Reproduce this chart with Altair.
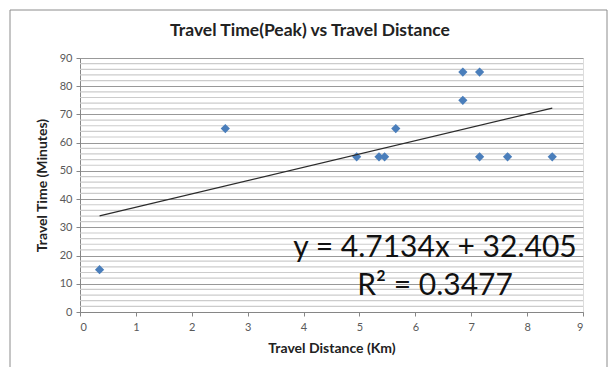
import altair as alt
import pandas as pd

# Observed trips: distance (km) and peak-hour travel time (minutes)
distance_km = [0.35, 2.6, 4.95, 5.35, 5.45, 5.65, 6.85, 6.85, 7.15, 7.15, 7.65, 8.45]
time_min = [15, 65, 55, 55, 55, 65, 85, 75, 85, 55, 55, 55]

# Linear trendline coefficients and fit quality
slope = 4.7134
intercept = 32.405
r_squared = 0.3477

x_ticks = [0, 1, 2, 3, 4, 5, 6, 7, 8, 9]
y_major = [0, 10, 20, 30, 40, 50, 60, 70, 80, 90]
y_minor = [v for v in range(2, 90, 2) if v % 10 != 0]

FONT = "Lato"
points = pd.DataFrame({"x": distance_km, "y": time_min})
x_lo, x_hi = min(distance_km), max(distance_km)
trend = pd.DataFrame({"x": [x_lo, x_hi],
                      "y": [slope * x_lo + intercept, slope * x_hi + intercept]})

x_scale = alt.Scale(domain=[0, 9], nice=False, zero=False)
y_scale = alt.Scale(domain=[0, 90], nice=False)

x_axis = alt.Axis(
    values=x_ticks, format="d", grid=False, title="Travel Distance (Km)",
    titleFont=FONT, titleFontSize=14, titleFontWeight="bold",
    titleColor="#222222", titlePadding=9,
    labelFont=FONT, labelFontSize=11, labelColor="#595959",
    domainColor="#868686", tickColor="#868686", tickSize=4, labelPadding=5)

y_axis = alt.Axis(
    values=y_major, format="d", grid=True, gridColor="#999999", gridWidth=1,
    title="Travel Time (Minutes)",
    titleFont=FONT, titleFontSize=14, titleFontWeight="bold",
    titleColor="#222222", titlePadding=10,
    labelFont=FONT, labelFontSize=11, labelColor="#595959",
    domainColor="#868686", tickColor="#868686", tickSize=4, labelPadding=4)

# Light minor gridlines every 2 minutes
minor_grid = alt.Chart(pd.DataFrame({"v": y_minor})).mark_rule(
    color="#cccccc", strokeWidth=1.2).encode(
    y=alt.Y("v:Q", scale=y_scale, axis=y_axis),
    x=alt.value(0), x2=alt.value(503),
)

scatter = alt.Chart(points).mark_point(shape="diamond", filled=True, size=85,
                                       color="#4a7ebb", opacity=1).encode(
    x=alt.X("x:Q", scale=x_scale, axis=x_axis),
    y=alt.Y("y:Q", scale=y_scale, axis=y_axis),
)

trend_line = alt.Chart(trend).mark_line(color="#2b2b2b", strokeWidth=1.2).encode(
    x=alt.X("x:Q", scale=x_scale, axis=x_axis),
    y=alt.Y("y:Q", scale=y_scale, axis=y_axis),
)

title_df = pd.DataFrame({"label": ["Travel Time(Peak) vs Travel Distance"]})
eq_df = pd.DataFrame({"label": [f"y = {slope}x + {intercept}"]})
r2_df = pd.DataFrame({"label": [f"R\u00b2 = {r_squared}"]})

title_text = alt.Chart(title_df).mark_text(
    font=FONT, fontSize=17.5, fontWeight="bold", color="#222222",
    align="center", baseline="alphabetic").encode(
    x=alt.value(230), y=alt.value(-22), text="label:N")

eq_text = alt.Chart(eq_df).mark_text(font=FONT, fontSize=30, color="#111111",
                                     align="center", baseline="alphabetic").encode(
    x=alt.value(355), y=alt.value(199), text="label:N")
r2_text = alt.Chart(r2_df).mark_text(font=FONT, fontSize=30, color="#111111",
                                     align="center", baseline="alphabetic").encode(
    x=alt.value(355), y=alt.value(237), text="label:N")

# Outer frame around the whole chart
frame = alt.Chart(eq_df).mark_rect(fill=None, stroke="#8c8c8c", strokeWidth=1,
                                   clip=False).encode(
    x=alt.value(-70), x2=alt.value(527), y=alt.value(-48), y2=alt.value(310))

chart = alt.layer(minor_grid, scatter, trend_line, title_text, eq_text, r2_text,
                  frame).properties(
    width=503, height=254,
    padding={"left": 80, "top": 58, "right": 26, "bottom": 55},
    autosize=alt.AutoSizeParams(type="none"),
).configure_view(stroke=None).configure(background="white")

chart.save("out.html", embed_options={"renderer": "svg", "actions": False})
